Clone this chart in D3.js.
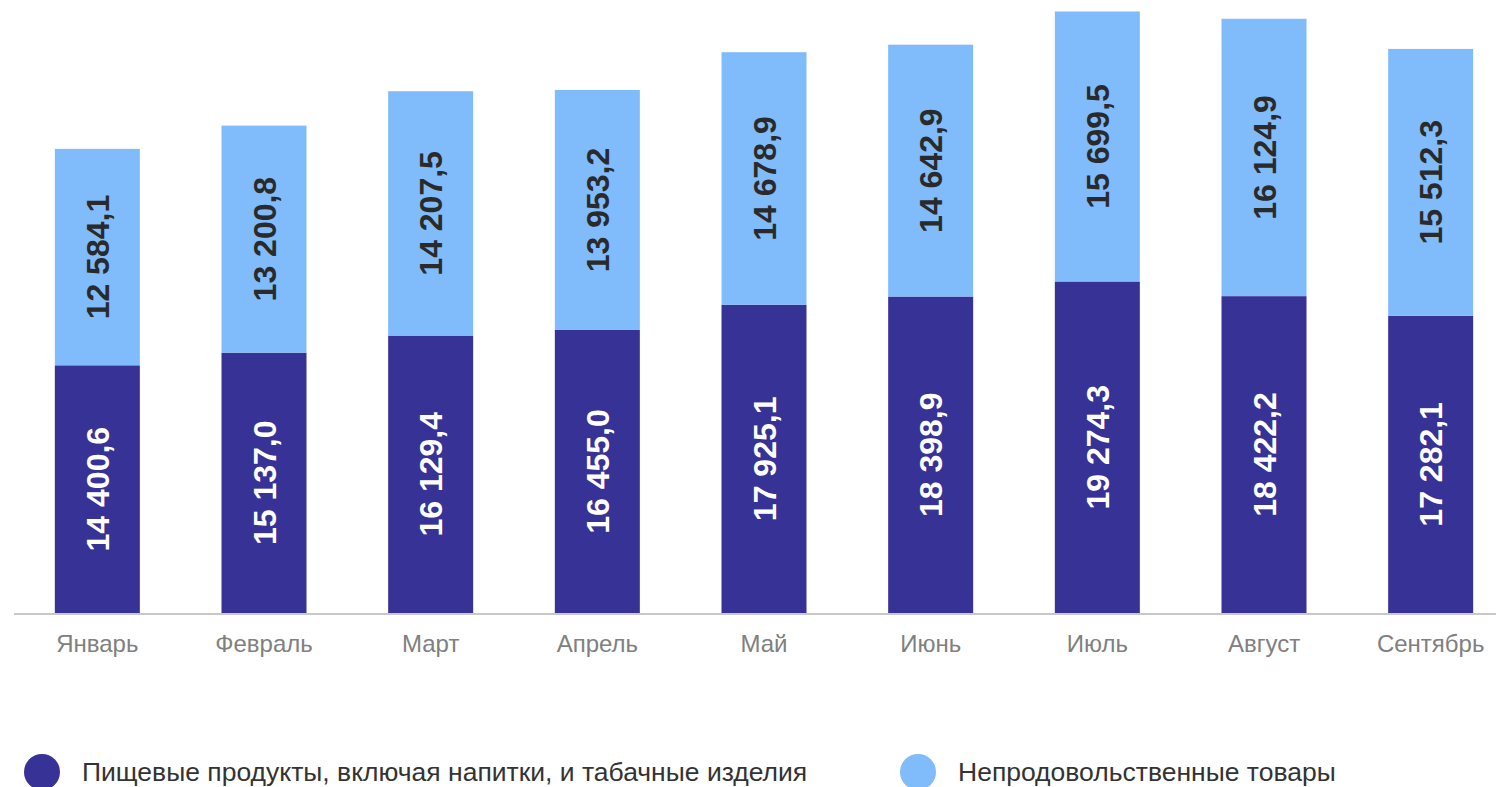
<!DOCTYPE html>
<html><head><meta charset="utf-8">
<script src="https://cdn.jsdelivr.net/npm/d3@7"></script>
<style>html,body{margin:0;padding:0;background:#fff;overflow:hidden}</style>
</head><body>
<svg id="chart" width="1496" height="787"></svg>
<script>
const categories = ["Январь","Февраль","Март","Апрель","Май","Июнь","Июль","Август","Сентябрь"];
const foodValues = [14400.6,15137.0,16129.4,16455.0,17925.1,18398.9,19274.3,18422.2,17282.1];
const nonFoodValues = [12584.1,13200.8,14207.5,13953.2,14678.9,14642.9,15699.5,16124.9,15512.3];
const seriesNames = ["Пищевые продукты, включая напитки, и табачные изделия","Непродовольственные товары"];
const colors = ["#373295","#80bbfb"];
const labelColors = ["#ffffff","#2a2a2a"];

const svg = d3.select("#chart");
const fmt = v => {
  const s = v.toFixed(1).split(".");
  return s[0].replace(/\B(?=(\d{3})+(?!\d))/g, " ") + "," + s[1];
};

const x = d3.scaleBand().domain(categories).range([14, 1514]).paddingInner(0.49).paddingOuter(0.245);
const y = d3.scaleLinear().domain([0, 35000]).range([613, 11]);

const data = categories.map((c,i)=>({cat:c, vals:[foodValues[i], nonFoodValues[i]]}));
const stack = d3.stack().keys([0,1]).value((d,k)=>d.vals[k]);
const series = stack(data);

const g = svg.append("g");
series.forEach((s, si) => {
  g.selectAll(null).data(s).enter().append("rect")
    .attr("x", d=>x(d.data.cat))
    .attr("width", x.bandwidth())
    .attr("y", d=>y(d[1]))
    .attr("height", d=>y(d[0])-y(d[1]))
    .attr("fill", colors[si]);
  g.selectAll(null).data(s).enter().append("text")
    .attr("transform", d=>`translate(${x(d.data.cat)+x.bandwidth()/2},${(y(d[0])+y(d[1]))/2}) rotate(-90)`)
    .attr("text-anchor","middle")
    .attr("dy","0.36em")
    .attr("font-family","Liberation Sans, Arial, sans-serif")
    .attr("font-weight","bold")
    .attr("font-size","32px")
    .attr("fill", labelColors[si])
    .text(d=>fmt(d.data.vals[si]));
});

// axis line
svg.append("line").attr("x1",14).attr("x2",1496).attr("y1",614).attr("y2",614)
  .attr("stroke","#c8c8c8").attr("stroke-width",2);

// x labels
const xAxis = d3.axisBottom(x).tickSize(0).tickPadding(0);
const ax = svg.append("g").attr("transform","translate(0,613)").call(xAxis);
ax.select(".domain").remove();
ax.selectAll("text")
  .attr("y", 39).attr("dy", 0)
  .attr("font-family","Liberation Sans, Arial, sans-serif")
  .attr("font-size","24px")
  .attr("fill","#808080");

// legend
const legendX = [42, 918];
seriesNames.forEach((n,i)=>{
  svg.append("circle").attr("cx",legendX[i]).attr("cy",772).attr("r",18).attr("fill",colors[i]);
  svg.append("text").attr("x",legendX[i]+40).attr("y",781)
    .attr("font-family","Liberation Sans, Arial, sans-serif")
    .attr("font-size","26.5px").attr("fill","#333333").text(n);
});
</script>
</body></html>
